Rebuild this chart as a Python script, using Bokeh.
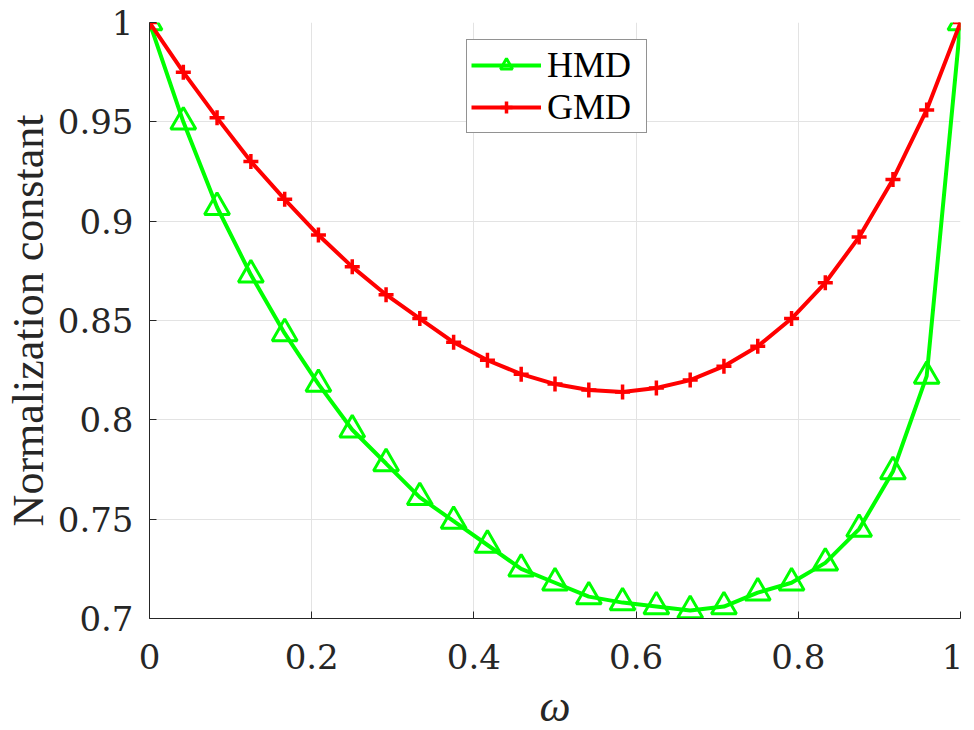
from bokeh.plotting import figure
from bokeh.models import Range1d, FixedTicker, Legend
from bokeh.embed import file_html
from bokeh.resources import INLINE

# ---- data ----
omega = [0.0, 0.0417, 0.0833, 0.125, 0.1667, 0.2083, 0.25, 0.2917, 0.3333,
         0.375, 0.4167, 0.4583, 0.5, 0.5417, 0.5833, 0.625, 0.6667, 0.7083,
         0.75, 0.7917, 0.8333, 0.875, 0.9167, 0.9583, 1.0]
hmd = [1.0, 0.950, 0.907, 0.873, 0.8435, 0.818, 0.795, 0.778, 0.761, 0.749,
       0.737, 0.725, 0.718, 0.711, 0.708, 0.706, 0.704, 0.706, 0.713, 0.718,
       0.728, 0.745, 0.774, 0.822, 1.0]
gmd = [1.0, 0.975, 0.952, 0.930, 0.911, 0.893, 0.877, 0.863, 0.851, 0.839,
       0.830, 0.823, 0.818, 0.815, 0.814, 0.816, 0.820, 0.827, 0.837, 0.851,
       0.869, 0.892, 0.921, 0.956, 1.0]
x_ticks = [0, 0.2, 0.4, 0.6, 0.8, 1]
x_tick_labels = ["0", "0.2", "0.4", "0.6", "0.8", "1"]
y_ticks = [0.7, 0.75, 0.8, 0.85, 0.9, 0.95, 1]
y_tick_labels = ["0.7", "0.75", "0.8", "0.85", "0.9", "0.95", "1"]
series_names = ["HMD", "GMD"]
x_title = "ω"
y_title = "Normalization constant"

FONT = "Liberation Serif"
NUM_FONT = "DejaVu Serif"
AX = "#262626"
GREEN = "#00FF00"
RED = "#FF0000"

p = figure(frame_width=811, frame_height=596, output_backend="svg",
           toolbar_location=None,
           x_range=Range1d(0, 1), y_range=Range1d(0.7, 1),
           min_border_left=148, min_border_right=3, min_border_top=22,
           min_border_bottom=120)
p.outline_line_color = None
p.background_fill_color = "white"
p.border_fill_color = "white"

# axes
for ax in (p.xaxis[0], p.yaxis[0]):
    ax.axis_line_color = AX
    ax.axis_line_width = 1
    ax.major_tick_line_color = AX
    ax.major_tick_in = 7
    ax.major_tick_out = 0
    ax.minor_tick_line_color = None
    ax.major_label_text_font = NUM_FONT
    ax.major_label_text_font_style = "normal"
    ax.major_label_text_font_size = "34px"
    ax.major_label_text_color = AX
    ax.axis_label_text_font = FONT
    ax.axis_label_text_font_size = "44px"
    ax.axis_label_text_color = AX

p.yaxis.axis_label_text_font_style = "normal"
p.xaxis.axis_label_text_font_style = "italic"

p.xaxis.ticker = FixedTicker(ticks=x_ticks)
p.yaxis.ticker = FixedTicker(ticks=y_ticks)
p.xaxis.major_label_overrides = {t: l for t, l in zip(x_ticks, x_tick_labels)}
p.yaxis.major_label_overrides = {t: l for t, l in zip(y_ticks, y_tick_labels)}
p.xaxis.major_label_standoff = 25
p.yaxis.major_label_standoff = 16
p.xaxis.axis_label = x_title
p.xaxis.axis_label_standoff = 10
p.yaxis.axis_label = y_title
p.yaxis.axis_label_standoff = 2

p.grid.grid_line_color = "#E3E3E3"
p.grid.grid_line_width = 1

# series
l1 = p.line(omega, hmd, line_color=GREEN, line_width=4)
s1 = p.scatter(omega, hmd, marker="triangle", size=25, line_color=GREEN,
               fill_color=None, line_width=3)
l2 = p.line(omega, gmd, line_color=RED, line_width=4)
s2 = p.scatter(omega, gmd, marker="cross", size=15, line_color=RED,
               line_width=3.5)

legend = Legend(items=[(series_names[0], [l1, s1]), (series_names[1], [l2, s2])],
                location=(317, 485))
legend.label_text_font = FONT
legend.label_text_font_style = "normal"
legend.label_text_font_size = "36px"
legend.label_text_color = "black"
legend.glyph_width = 70
legend.glyph_height = 30
legend.label_width = 95
legend.label_standoff = 6
legend.padding = 4
legend.spacing = 0
legend.margin = 0
legend.border_line_color = AX
legend.border_line_width = 1
legend.background_fill_color = "white"
legend.background_fill_alpha = 1
p.add_layout(legend)

open("out.html", "w").write(file_html(p, INLINE))
